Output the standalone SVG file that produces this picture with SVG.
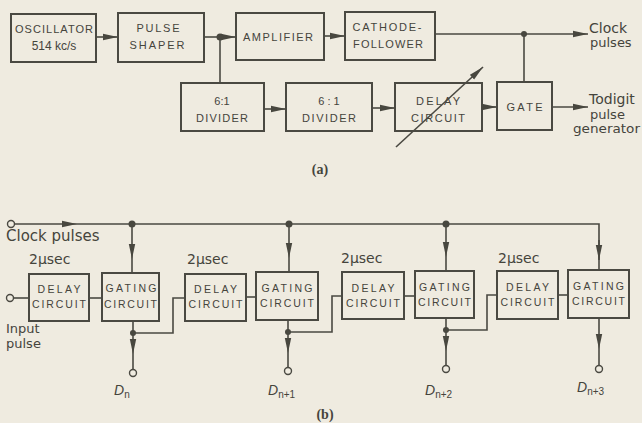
<svg xmlns="http://www.w3.org/2000/svg" width="642" height="423" viewBox="0 0 642 423">
<defs>
<marker id="ah" markerUnits="userSpaceOnUse" markerWidth="16" markerHeight="8" refX="15" refY="4" orient="auto">
<path d="M0,0.8 L15,4 L0,7.2 z" fill="#48473f"/>
</marker>
<style>
.bx{fill:none;stroke:#4a4942;stroke-width:2}
.ln{fill:none;stroke:#4a4942;stroke-width:1.6}
.dot{fill:#48473f}
.oc{fill:none;stroke:#4a4942;stroke-width:1.4}
.t{font-family:"Liberation Sans",Arial,sans-serif;font-size:11px;fill:#45443c;text-anchor:middle}
.tb{font-family:"Liberation Sans",Arial,sans-serif;font-size:10.5px;fill:#45443c;text-anchor:middle}
.lb{font-family:"DejaVu Sans","Liberation Sans",sans-serif;font-size:13px;fill:#45443c}
.dl{font-family:"Liberation Sans",Arial,sans-serif;font-size:14px;font-style:italic;fill:#45443c}
.sub{font-size:10px;font-style:normal}
.cap{font-family:"Liberation Serif","Times New Roman",serif;font-size:14px;font-weight:bold;fill:#45443c;text-anchor:middle}
</style>
</defs>
<rect width="642" height="423" fill="#efebe0"/>

<!-- (a) nodes -->
<g id="oscillator"><rect class="bx" x="11" y="14" width="85" height="48"/>
<text class="t" x="54" y="33" textLength="78" lengthAdjust="spacing">OSCILLATOR</text>
<text class="t" x="54" y="50" style="font-size:12px">514 kc/s</text></g>
<g id="pulse-shaper"><rect class="bx" x="118" y="13" width="86" height="49"/>
<text class="t" x="158" y="32" textLength="43" lengthAdjust="spacing">PULSE</text>
<text class="t" x="157" y="49" textLength="55" lengthAdjust="spacing">SHAPER</text></g>
<g id="amplifier"><rect class="bx" x="236" y="13" width="88" height="47"/>
<text class="t" x="278" y="41" textLength="70" lengthAdjust="spacing">AMPLIFIER</text></g>
<g id="cathode-follower"><rect class="bx" x="345" y="12" width="90" height="48"/>
<text class="t" x="387" y="31" textLength="69" lengthAdjust="spacing">CATHODE-</text>
<text class="t" x="388" y="48" textLength="70" lengthAdjust="spacing">FOLLOWER</text></g>
<g id="divider1"><rect class="bx" x="181" y="83" width="83" height="48"/>
<text class="t" x="222" y="105">6:1</text>
<text class="t" x="222" y="122" textLength="52" lengthAdjust="spacing">DIVIDER</text></g>
<g id="divider2"><rect class="bx" x="286" y="83" width="86" height="48"/>
<text class="t" x="329" y="105">6 : 1</text>
<text class="t" x="329" y="122" textLength="54" lengthAdjust="spacing">DIVIDER</text></g>
<g id="delay-a"><rect class="bx" x="395" y="83" width="87" height="48"/>
<text class="t" x="438" y="105" textLength="44" lengthAdjust="spacing">DELAY</text>
<text class="t" x="438" y="122" textLength="54" lengthAdjust="spacing">CIRCUIT</text></g>
<g id="gate"><rect class="bx" x="497" y="82" width="55" height="48"/>
<text class="t" x="524.5" y="111" textLength="36" lengthAdjust="spacing">GATE</text></g>
<g id="labels-a">
<text class="lb" x="589" y="33" style="font-size:14px">Clock</text>
<text class="lb" x="590" y="47">pulses</text>
<text class="lb" x="589" y="104" style="font-size:14px">Todigit</text>
<text class="lb" x="590" y="119">pulse</text>
<text class="lb" x="573" y="133" textLength="67" lengthAdjust="spacingAndGlyphs">generator</text>
<text class="cap" x="320" y="174">(a)</text>
</g>

<!-- (a) connectors -->
<g id="connectors-a">
<path class="ln" d="M96,37 H118" marker-end="url(#ah)"/>
<path class="ln" d="M204,37 H220"/>
<path class="ln" d="M220,37 H236" marker-end="url(#ah)"/>
<circle class="dot" cx="220" cy="37" r="3.5"/>
<path class="ln" d="M324,36 H345" marker-end="url(#ah)"/>
<path class="ln" d="M220,37 V83"/>
<path class="ln" d="M264,109 H286" marker-end="url(#ah)"/>
<path class="ln" d="M372,108 H395" marker-end="url(#ah)"/>
<path class="ln" d="M482,107 H497" marker-end="url(#ah)"/>
<path class="ln" d="M435,34 H588" marker-end="url(#ah)"/>
<circle class="dot" cx="524" cy="34" r="3"/>
<path class="ln" d="M524,34 V82"/>
<path class="ln" d="M552,107 H588" marker-end="url(#ah)"/>
<path class="ln" d="M396,147 L483,67" marker-end="url(#ah)"/>
</g>

<!-- (b) nodes -->
<g id="delay1"><rect class="bx" x="29" y="274" width="60" height="47"/>
<text class="tb" x="59" y="293" textLength="43" lengthAdjust="spacing">DELAY</text>
<text class="tb" x="59" y="308" textLength="54" lengthAdjust="spacing">CIRCUIT</text></g>
<g id="gating1"><rect class="bx" x="102" y="273" width="57" height="48"/>
<text class="tb" x="131" y="292" textLength="51" lengthAdjust="spacing">GATING</text>
<text class="tb" x="130.5" y="308" textLength="53" lengthAdjust="spacing">CIRCUIT</text></g>
<g id="delay2"><rect class="bx" x="185" y="274" width="61" height="47"/>
<text class="tb" x="215.5" y="293" textLength="43" lengthAdjust="spacing">DELAY</text>
<text class="tb" x="215.5" y="308" textLength="54" lengthAdjust="spacing">CIRCUIT</text></g>
<g id="gating2"><rect class="bx" x="256" y="272" width="62" height="48"/>
<text class="tb" x="287" y="292" textLength="51" lengthAdjust="spacing">GATING</text>
<text class="tb" x="287" y="307" textLength="54" lengthAdjust="spacing">CIRCUIT</text></g>
<g id="delay3"><rect class="bx" x="342" y="272" width="62" height="47"/>
<text class="tb" x="373" y="292" textLength="43" lengthAdjust="spacing">DELAY</text>
<text class="tb" x="373" y="307" textLength="54" lengthAdjust="spacing">CIRCUIT</text></g>
<g id="gating3"><rect class="bx" x="415" y="271" width="59" height="47"/>
<text class="tb" x="444.5" y="291" textLength="51" lengthAdjust="spacing">GATING</text>
<text class="tb" x="444.5" y="306" textLength="53" lengthAdjust="spacing">CIRCUIT</text></g>
<g id="delay4"><rect class="bx" x="497" y="271" width="61" height="48"/>
<text class="tb" x="527.5" y="291" textLength="43" lengthAdjust="spacing">DELAY</text>
<text class="tb" x="527.5" y="306" textLength="54" lengthAdjust="spacing">CIRCUIT</text></g>
<g id="gating4"><rect class="bx" x="568" y="270" width="61" height="48"/>
<text class="tb" x="598.5" y="290" textLength="51" lengthAdjust="spacing">GATING</text>
<text class="tb" x="598.5" y="305" textLength="53" lengthAdjust="spacing">CIRCUIT</text></g>
<g id="labels-b">
<text class="lb" x="6" y="241" style="font-size:15px">Clock pulses</text>
<text class="lb" x="29" y="264" style="font-size:14px">2μsec</text>
<text class="lb" x="187" y="264" style="font-size:14px">2μsec</text>
<text class="lb" x="341" y="263" style="font-size:14px">2μsec</text>
<text class="lb" x="498" y="263" style="font-size:14px">2μsec</text>
<text class="lb" x="6" y="333">Input</text>
<text class="lb" x="6" y="348">pulse</text>
<text class="dl" x="114" y="395">D<tspan class="sub" dy="3">n</tspan></text>
<text class="dl" x="268" y="395">D<tspan class="sub" dy="3">n+1</tspan></text>
<text class="dl" x="425" y="395">D<tspan class="sub" dy="3">n+2</tspan></text>
<text class="dl" x="577" y="392">D<tspan class="sub" dy="3">n+3</tspan></text>
<text class="cap" x="325" y="419">(b)</text>
</g>

<!-- (b) connectors -->
<g id="connectors-b">
<circle class="oc" cx="11" cy="224" r="3.5"/>
<path class="ln" d="M14.5,224 H77" marker-end="url(#ah)"/>
<path class="ln" d="M77,224 H599 V260"/>
<path class="ln" d="M599,240 V260" marker-end="url(#ah)"/>
<path class="ln" d="M599,260 V270"/>
<circle class="dot" cx="132" cy="224" r="3.5"/>
<circle class="dot" cx="289" cy="224" r="3.5"/>
<circle class="dot" cx="446" cy="224" r="3.5"/>
<path class="ln" d="M132,224 V259" marker-end="url(#ah)"/>
<path class="ln" d="M132,259 V273"/>
<path class="ln" d="M289,224 V258" marker-end="url(#ah)"/>
<path class="ln" d="M289,258 V272"/>
<path class="ln" d="M446,224 V257" marker-end="url(#ah)"/>
<path class="ln" d="M446,257 V271"/>

<circle class="oc" cx="10" cy="298" r="3.5"/>
<path class="ln" d="M13.5,298 H29"/>
<path class="ln" d="M89,298 H102"/>
<path class="ln" d="M133,321 V333"/>
<circle class="dot" cx="133" cy="333" r="3"/>
<path class="ln" d="M133,333 V354" marker-end="url(#ah)"/>
<path class="ln" d="M133,354 V369.5"/>
<circle class="oc" cx="133" cy="373" r="3.5"/>
<path class="ln" d="M133,333 H173 V298 H185"/>

<path class="ln" d="M246,297 H256"/>
<path class="ln" d="M288,320 V332"/>
<circle class="dot" cx="288" cy="332" r="3"/>
<path class="ln" d="M288,332 V353" marker-end="url(#ah)"/>
<path class="ln" d="M288,353 V367.5"/>
<circle class="oc" cx="288" cy="371" r="3.5"/>
<path class="ln" d="M288,332 H332 V296 H342"/>

<path class="ln" d="M404,296 H415"/>
<path class="ln" d="M446,318 V330"/>
<circle class="dot" cx="446" cy="330" r="3"/>
<path class="ln" d="M446,330 V351" marker-end="url(#ah)"/>
<path class="ln" d="M446,351 V365.5"/>
<circle class="oc" cx="446" cy="369" r="3.5"/>
<path class="ln" d="M446,330 H487 V295 H497"/>

<path class="ln" d="M558,295 H568"/>
<path class="ln" d="M599,318 V349" marker-end="url(#ah)"/>
<path class="ln" d="M599,349 V365.5"/>
<circle class="oc" cx="599" cy="369" r="3.5"/>
</g>
</svg>
